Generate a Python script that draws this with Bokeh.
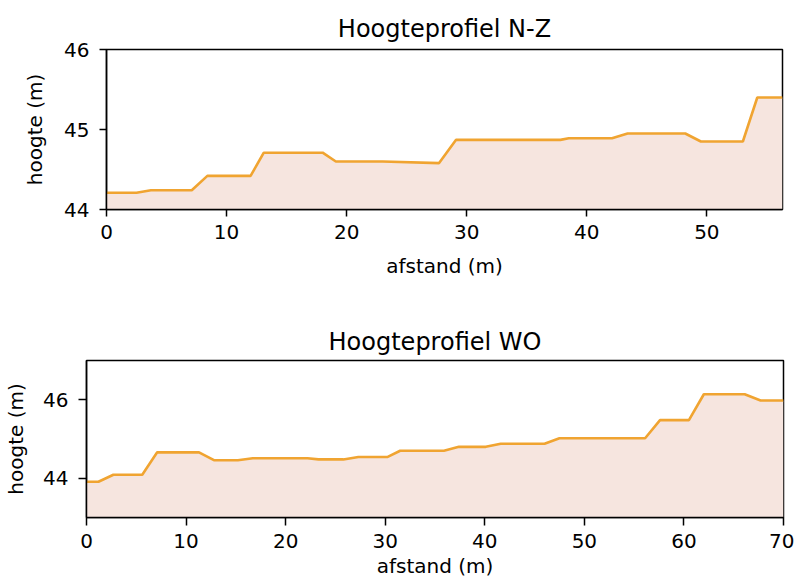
import math
from bokeh.plotting import figure
from bokeh.layouts import column, row
from bokeh.models import Range1d, FixedTicker
from bokeh.embed import file_html
from bokeh.resources import INLINE

# ---- data ----
nz_title = "Hoogteprofiel N-Z"
nz_x = [0, 2.5, 3.7, 7.1, 8.4, 12.0, 13.1, 18.0, 19.1, 23.0, 27.7, 29.1, 37.8, 38.5,
        42.1, 43.4, 48.2, 49.5, 53.0, 54.2, 56.3]
nz_y = [44.21, 44.21, 44.24, 44.24, 44.42, 44.42, 44.71, 44.71, 44.60, 44.60, 44.58,
        44.87, 44.87, 44.89, 44.89, 44.95, 44.95, 44.85, 44.85, 45.40, 45.40]
nz_xticks = [0, 10, 20, 30, 40, 50]
nz_yticks = [44, 45, 46]

wo_title = "Hoogteprofiel WO"
wo_x = [0, 1.2, 2.7, 5.6, 7.1, 11.3, 12.8, 15.2, 16.7, 22.2, 23.3, 25.8, 27.3, 30.2,
        31.5, 35.9, 37.4, 40.1, 41.6, 46.0, 47.5, 56.1, 57.6, 60.5, 62.0, 66.1, 67.7, 70.0]
wo_y = [43.91, 43.91, 44.09, 44.09, 44.66, 44.66, 44.46, 44.46, 44.51, 44.51, 44.48,
        44.48, 44.54, 44.54, 44.70, 44.70, 44.80, 44.80, 44.88, 44.88, 45.02, 45.02,
        45.48, 45.48, 46.14, 46.14, 45.98, 45.98]
wo_xticks = [0, 10, 20, 30, 40, 50, 60, 70]
wo_yticks = [44, 46]

x_label = "afstand (m)"
y_label = "hoogte (m)"

LINE = "#F0A431"
FILL = "#F6E5DF"
FONT = "DejaVu Sans"


def make(title, xs, ys, xticks, yticks, width, height, left, right, top, bottom):
    lo = math.floor(min(ys))
    hi = math.ceil(max(ys))
    p = figure(width=width, height=height, output_backend="svg", toolbar_location=None,
               x_range=Range1d(xs[0], xs[-1]), y_range=Range1d(lo, hi),
               min_border_left=left, min_border_right=right,
               min_border_top=top, min_border_bottom=bottom)
    p.title.text = title
    p.title.align = "center"
    p.title.text_font = FONT
    p.title.text_font_size = "24px"
    p.title.text_font_style = "normal"
    p.title.text_color = "black"

    base = [lo] * len(xs)
    p.varea(x=xs, y1=base, y2=ys, fill_color=FILL)
    p.line(xs, ys, line_color=LINE, line_width=2.6)

    p.grid.visible = False
    p.outline_line_color = "black"
    p.outline_line_width = 1.5
    p.background_fill_color = "white"
    p.border_fill_color = "white"

    p.xaxis.ticker = FixedTicker(ticks=xticks)
    p.yaxis.ticker = FixedTicker(ticks=yticks)
    p.xaxis.axis_label = x_label
    p.yaxis.axis_label = y_label
    for ax in (p.xaxis, p.yaxis):
        ax.axis_line_color = "black"
        ax.axis_line_width = 1.5
        ax.major_tick_in = 0
        ax.major_tick_out = 7
        ax.major_tick_line_color = "black"
        ax.major_tick_line_width = 1.5
        ax.minor_tick_line_color = None
        ax.major_label_text_font = FONT
        ax.major_label_text_font_size = "20px"
        ax.major_label_text_color = "black"
        ax.axis_label_text_font = FONT
        ax.axis_label_text_font_size = "20px"
        ax.axis_label_text_font_style = "normal"
        ax.axis_label_text_color = "black"
    p.xaxis.major_label_standoff = 8
    p.xaxis.axis_label_standoff = 12
    p.yaxis.major_label_standoff = 10
    p.yaxis.axis_label_standoff = 14
    return p


p1 = make(nz_title, nz_x, nz_y, nz_xticks, nz_yticks,
          width=794, height=285, left=106, right=12, top=49, bottom=76)
p1.title.standoff = 13

p2 = make(wo_title, wo_x, wo_y, wo_xticks, wo_yticks,
          width=794, height=297, left=86, right=11, top=75, bottom=65)
p2.title.standoff = 10
p2.xaxis.major_tick_out = 8
p2.yaxis.major_tick_out = 8
p2.xaxis.major_label_standoff = 8
p2.xaxis.axis_label_standoff = 3
p2.yaxis.major_label_standoff = 10
p2.yaxis.axis_label_standoff = 12

layout = column(row(p1), row(p2), spacing=0)
open("out.html", "w").write(file_html(layout, INLINE))
